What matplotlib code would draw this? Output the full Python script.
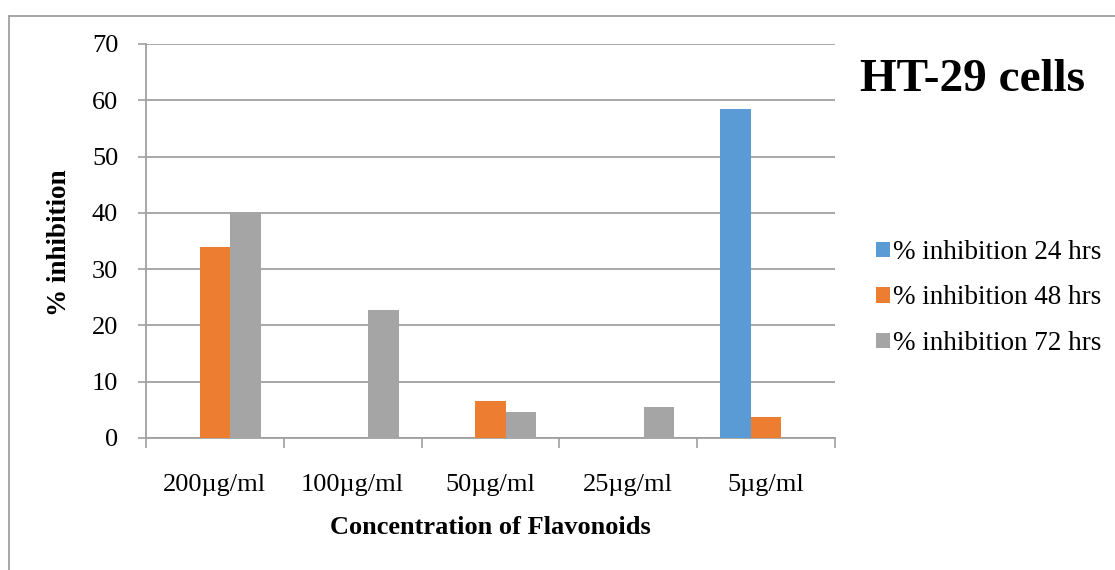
import matplotlib
matplotlib.use("Agg")
import matplotlib.pyplot as plt
from matplotlib.lines import Line2D
from matplotlib.patches import Patch
import numpy as np

categories = ["200\u00b5g/ml", "100\u00b5g/ml", "50\u00b5g/ml", "25\u00b5g/ml", "5\u00b5g/ml"]
inhib_24 = [0, 0, 0, 0, 58.4]
inhib_48 = [34.0, 0, 6.6, 0, 3.7]
inhib_72 = [40.1, 22.8, 4.6, 5.5, 0]
series_names = ["% inhibition 24 hrs", "% inhibition 48 hrs", "% inhibition 72 hrs"]
colors = ["#5B9BD5", "#ED7D31", "#A5A5A5"]
title = "HT-29 cells"
xlabel = "Concentration of Flavonoids"
ylabel = "% inhibition"
yticks = [0, 10, 20, 30, 40, 50, 60, 70]

plt.rcParams["font.family"] = ["Liberation Serif", "DejaVu Serif"]

W, H = 1115, 570
fig = plt.figure(figsize=(W / 100, H / 100), dpi=100)
ax = fig.add_axes([146 / W, 1 - 438 / H, (835 - 146) / W, (438 - 44) / H])

x = np.arange(len(categories))
bw = 1 / 4.5
for i, (vals, c) in enumerate(zip([inhib_24, inhib_48, inhib_72], colors)):
    ax.bar(x + (i - 1) * bw, vals, width=bw, color=c, linewidth=0, zorder=3)

ax.set_xlim(-0.5, len(categories) - 0.5)
ax.set_ylim(0, 70)
ax.set_yticks(yticks)
ax.set_yticklabels([str(v) for v in yticks])
ax.yaxis.grid(True, color="#a0a0a0", linewidth=1.3, zorder=0)
ax.set_axisbelow(True)

ax.set_xticks(x)
ax.set_xticklabels(categories)
ax.set_xticks(np.arange(len(categories) + 1) - 0.5, minor=True)
ax.tick_params(axis="x", which="major", length=0, pad=26, labelsize=19)
ax.tick_params(axis="x", which="minor", length=7, width=1.2, color="#a0a0a0", direction="out")
ax.tick_params(axis="y", length=6, width=1.2, color="#a0a0a0", pad=14, labelsize=19)

for s in ["top", "right"]:
    ax.spines[s].set_visible(False)
for s in ["left", "bottom"]:
    ax.spines[s].set_color("#a0a0a0")
    ax.spines[s].set_linewidth(1.3)

fig.text(490.5 / W, 1 - 528 / H, xlabel, ha="center", va="center", fontsize=19, fontweight="bold")
fig.text(59 / W, 1 - 243 / H, ylabel, ha="center", va="center", rotation=90, fontsize=19.5, fontweight="bold")
fig.text(972 / W, 1 - 80 / H, title, ha="center", va="center", fontsize=34, fontweight="bold")

handles = [Patch(facecolor=c, edgecolor="none") for c in colors]
fig.legend(handles, series_names, loc="center left", bbox_to_anchor=(876 / W, 1 - 298 / H),
           frameon=False, fontsize=19.5, handlelength=0.5, handleheight=0.5,
           handletextpad=0.12, labelspacing=0.76, borderaxespad=0, borderpad=0)

# outer chart border (top and left visible)
fig.add_artist(Line2D([8.5 / W, 8.5 / W], [0, 1 - 16 / H], transform=fig.transFigure, color="#a0a0a0", linewidth=1.3))
fig.add_artist(Line2D([8.5 / W, 1], [1 - 16 / H, 1 - 16 / H], transform=fig.transFigure, color="#a0a0a0", linewidth=1.3))

fig.savefig("out.png", dpi=100)
